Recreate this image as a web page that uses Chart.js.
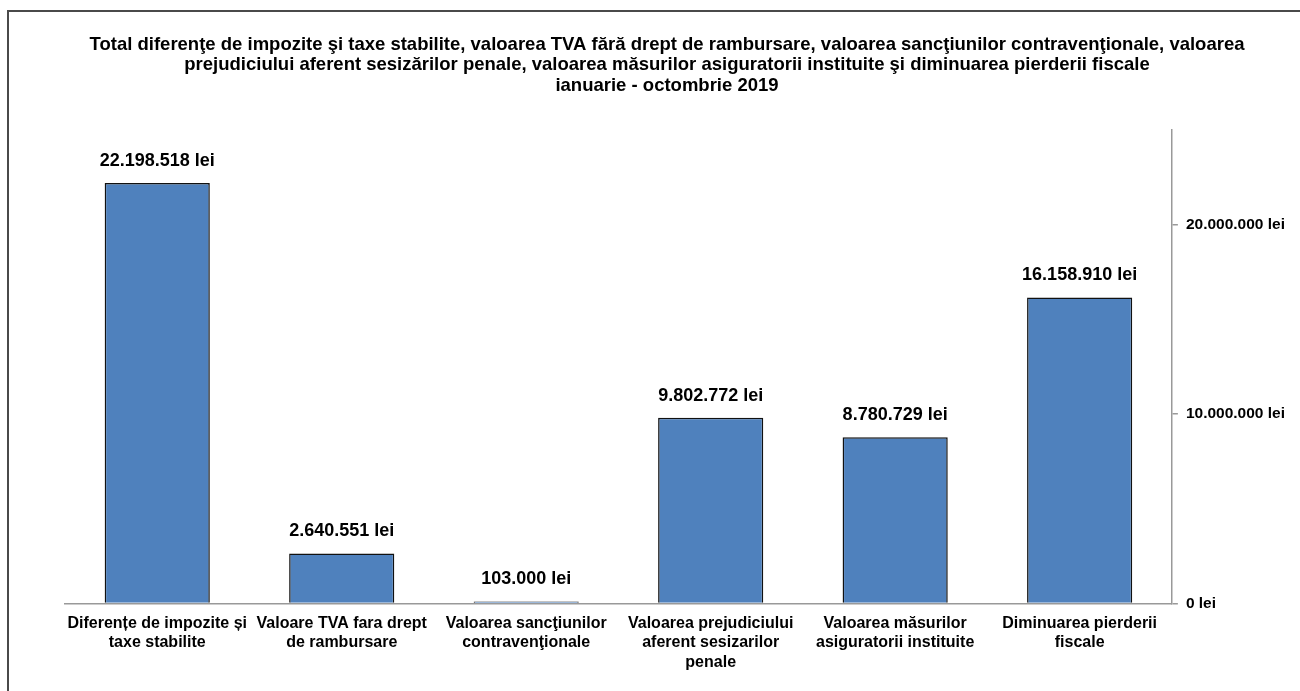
<!DOCTYPE html>
<html>
<head>
<meta charset="utf-8">
<script src="https://cdn.jsdelivr.net/npm/chart.js@4"></script>
<style>
  html, body { margin: 0; padding: 0; background: #fff; }
  #wrap { position: relative; width: 1300px; height: 691px; }
</style>
</head>
<body>
<div id="wrap"><canvas id="chart" width="1300" height="691"></canvas></div>
<script>
// Data
const categories = [
    ['Diferențe de impozite și', 'taxe stabilite'],
    ['Valoare TVA fara drept', 'de rambursare'],
    ['Valoarea sancţiunilor', 'contravenţionale'],
    ['Valoarea prejudiciului', 'aferent sesizarilor', 'penale'],
    ['Valoarea măsurilor', 'asiguratorii instituite'],
    ['Diminuarea pierderii', 'fiscale']
];
const values = [22198518, 2640551, 103000, 9802772, 8780729, 16158910];
const yTicks = [0, 10000000, 20000000];
const titleLines = [
    'Total diferenţe de impozite şi taxe stabilite, valoarea TVA fără drept de rambursare, valoarea sancţiunilor contravenţionale, valoarea',
    'prejudiciului aferent sesizărilor penale, valoarea măsurilor asiguratorii instituite şi diminuarea pierderii fiscale',
    'ianuarie - octombrie 2019'
];

const FONT = '"Liberation Sans", Arial, sans-serif';

function fmtLei(v) {
    return String(v).replace(/\B(?=(\d{3})+(?!\d))/g, '.') + ' lei';
}

// white background, outer frame and the three-line title
const framePlugin = {
    id: 'frame',
    beforeDraw(chart) {
        const ctx = chart.ctx;
        ctx.save();
        ctx.fillStyle = '#fff';
        ctx.fillRect(0, 0, chart.width, chart.height);
        ctx.strokeStyle = '#4a4a4a';
        ctx.lineWidth = 2;
        ctx.strokeRect(8, 11, chart.width + 20, chart.height + 20);

        ctx.font = 'bold 18.5px ' + FONT;
        ctx.fillStyle = '#000';
        ctx.textAlign = 'center';
        ctx.textBaseline = 'middle';
        titleLines.forEach((line, i) => {
            ctx.fillText(line, 667, 44.5 + i * 20.5);
        });
        ctx.restore();
    }
};

// value labels above the bars
const valueLabels = {
    id: 'valueLabels',
    afterDatasetsDraw(chart) {
        const ctx = chart.ctx;
        const meta = chart.getDatasetMeta(0);
        ctx.save();
        ctx.font = 'bold 18px ' + FONT;
        ctx.fillStyle = '#000';
        ctx.textAlign = 'center';
        ctx.textBaseline = 'middle';
        meta.data.forEach((bar, i) => {
            ctx.fillText(fmtLei(values[i]), bar.x, bar.y - 22);
        });
        ctx.restore();
    }
};

new Chart(document.getElementById('chart'), {
    type: 'bar',
    data: {
        labels: categories,
        datasets: [{
            data: values,
            backgroundColor: '#4F81BD',
            borderColor: '#111',
            borderWidth: 1.5,
            categoryPercentage: 1,
            barPercentage: 0.57
        }]
    },
    options: {
        responsive: false,
        animation: false,
        layout: { padding: { left: 65, right: 7, top: 130, bottom: 9 } },
        plugins: {
            legend: { display: false },
            tooltip: { enabled: false },
            title: { display: false }
        },
        scales: {
            x: {
                grid: { display: false, drawTicks: false },
                border: { display: true, color: '#999', width: 1.5 },
                ticks: {
                    color: '#000',
                    font: { family: FONT, size: 16, weight: 'bold', lineHeight: 1.22 },
                    padding: 10,
                    maxRotation: 0,
                    autoSkip: false
                }
            },
            y: {
                position: 'right',
                min: 0,
                max: 25000000,
                afterBuildTicks(scale) {
                    scale.ticks = yTicks.map(v => ({ value: v }));
                },
                grid: { drawOnChartArea: false, drawTicks: true, tickLength: 6, color: '#999', lineWidth: 1.5 },
                border: { display: true, color: '#999', width: 1.5 },
                ticks: {
                    color: '#000',
                    font: { family: FONT, size: 15.5, weight: 'bold' },
                    padding: 8,
                    callback: v => fmtLei(v)
                }
            }
        }
    },
    plugins: [framePlugin, valueLabels]
});
</script>
</body>
</html>
